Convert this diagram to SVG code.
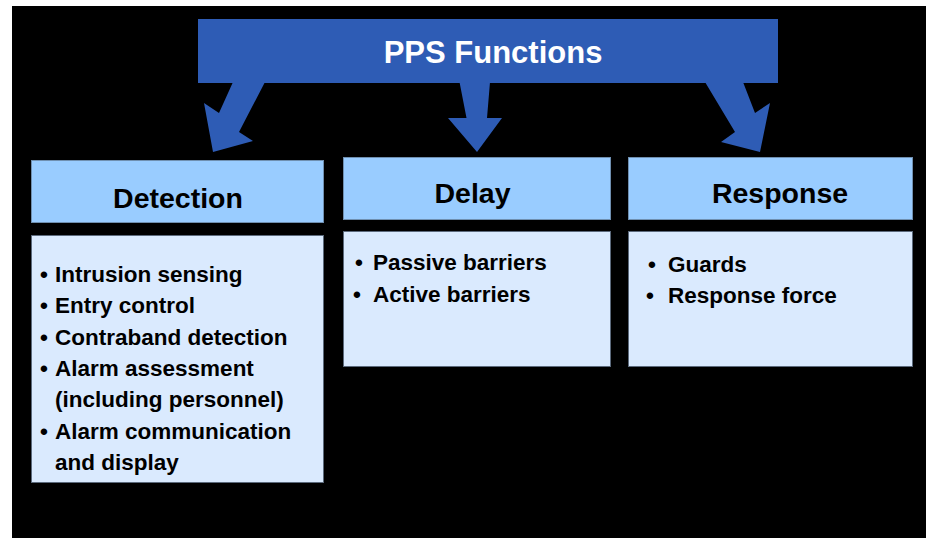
<svg xmlns="http://www.w3.org/2000/svg" width="926" height="538" viewBox="0 0 926 538">
  <style>
    .bold { font-family: "Liberation Sans", Arial, sans-serif; font-weight: bold; }
    .title { font-size: 31px; fill: #ffffff; }
    .head { fill: #99CCFF; stroke: #6F8FB0; stroke-width: 1; }
    .body { fill: #DAEAFE; stroke: #5C6A7C; stroke-width: 1; }
    .htxt { font-size: 28.5px; fill: #000000; }
    .item { font-size: 22.5px; fill: #000000; }
    .arrow { fill: #2E5CB5; }
  </style>

  <!-- background -->
  <rect x="12" y="6" width="914" height="532" fill="#000000"/>

  <!-- top banner -->
  <g id="pps-functions">
    <rect x="198" y="19" width="580" height="64" class="arrow"/>
    <text x="493" y="63" text-anchor="middle" class="bold title">PPS Functions</text>
  </g>

  <!-- block arrows from the banner to each function -->
  <g id="connectors">
    <polygon class="arrow" points="233,82 265,82 239,132 253,141 213,152 204,103 219,113"/>
    <polygon class="arrow" points="459.5,82 490,82 487,118 502,118 477,152 448,118 466.5,118"/>
    <polygon class="arrow" points="705,82 743,82 755,113 770,103 760,152 721,142 735,132"/>
  </g>

  <!-- Detection -->
  <g id="detection">
    <rect x="31.5" y="160.5" width="292" height="62" class="head"/>
    <text x="178" y="208" text-anchor="middle" class="bold htxt">Detection</text>
    <rect x="31.5" y="235.5" width="292" height="247" class="body"/>
    <g class="bold item">
      <text x="40" y="282">•</text><text x="55" y="282">Intrusion sensing</text>
      <text x="40" y="313.3">•</text><text x="55" y="313.3">Entry control</text>
      <text x="40" y="344.6">•</text><text x="55" y="344.6">Contraband detection</text>
      <text x="40" y="375.9">•</text><text x="55" y="375.9">Alarm assessment</text>
      <text x="55" y="407.2">(including personnel)</text>
      <text x="40" y="438.5">•</text><text x="55" y="438.5">Alarm communication</text>
      <text x="55" y="469.8">and display</text>
    </g>
  </g>

  <!-- Delay -->
  <g id="delay">
    <rect x="343.5" y="157.5" width="267" height="62" class="head"/>
    <text x="472.5" y="203" text-anchor="middle" class="bold htxt">Delay</text>
    <rect x="343.5" y="231.5" width="267" height="135" class="body"/>
    <g class="bold item">
      <text x="355" y="270">•</text><text x="373" y="270">Passive barriers</text>
      <text x="353" y="302">•</text><text x="373" y="302">Active barriers</text>
    </g>
  </g>

  <!-- Response -->
  <g id="response">
    <rect x="628.5" y="157.5" width="284" height="62" class="head"/>
    <text x="780" y="203" text-anchor="middle" class="bold htxt">Response</text>
    <rect x="628.5" y="231.5" width="284" height="135" class="body"/>
    <g class="bold item">
      <text x="648" y="272">•</text><text x="668" y="272">Guards</text>
      <text x="646" y="303">•</text><text x="668" y="303">Response force</text>
    </g>
  </g>
</svg>
